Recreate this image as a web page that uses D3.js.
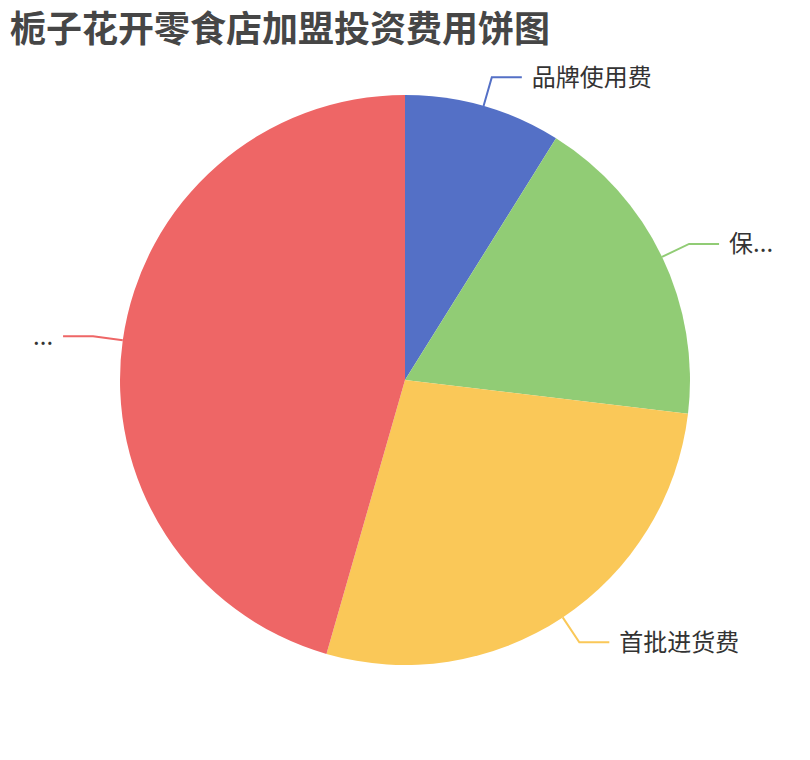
<!DOCTYPE html>
<html>
<head>
<meta charset="utf-8">
<script src="https://cdn.jsdelivr.net/npm/d3@7"></script>
<style>
  body { margin: 0; background: #fff; }
  text { font-family: "Noto Sans CJK SC", "Noto Sans", sans-serif; }
</style>
</head>
<body>
<div id="chart"></div>
<script>
// data
var categories = ["品牌使用费", "保证金", "首批进货费", "其他费用"];
var values = [4, 8.1, 12.4, 20.5];
var labelTexts = ["品牌使用费", "保...", "首批进货费", "..."];
var colors = ["#5470c6", "#91cc75", "#fac858", "#ee6666"];

function makeChart(){
  var width = 810, height = 760,
      radius = Math.min(width, height) / 2 * 0.75,
      len1 = 30, len2 = 30;

  var svg = d3.select("#chart").append("svg")
              .attr("width", width)
              .attr("height", height);

  svg.append("text")
     .attr("x", 10)
     .attr("y", 42)
     .attr("fill", "#464646")
     .attr("font-size", 36)
     .attr("font-weight", "bold")
     .text("栀子花开零食店加盟投资费用饼图");

  var data = categories.map(function(c, i){
    return { name: c, value: values[i], label: labelTexts[i], color: colors[i] };
  });

  var pie = d3.pie().sort(null).value(function(d){ return d.value; });
  var arc = d3.arc().innerRadius(0).outerRadius(radius);
  var arcs = pie(data);

  var g = svg.append("g")
             .attr("transform", "translate(" + width / 2 + "," + height / 2 + ")");

  g.selectAll(".slice")
   .data(arcs)
   .enter().append("path")
   .attr("class", "slice")
   .attr("d", arc)
   .attr("fill", function(d){ return d.data.color; });

  // label lines: out from the rim along the mid angle, then sideways
  function pt(a, r){ return [Math.sin(a) * r, -Math.cos(a) * r]; }

  arcs.forEach(function(d){
    var mid = (d.startAngle + d.endAngle) / 2;
    var p0 = pt(mid, radius), p1 = pt(mid, radius + len1);
    var right = Math.sin(mid) >= 0;
    var p2 = [p1[0] + (right ? len2 : -len2), p1[1]];

    g.append("polyline")
     .attr("points", [p0, p1, p2].map(function(p){ return p.join(","); }).join(" "))
     .attr("fill", "none")
     .attr("stroke", d.data.color)
     .attr("stroke-width", 2);

    g.append("text")
     .attr("x", p2[0] + (right ? 10 : -10))
     .attr("y", p2[1])
     .attr("dy", "0.35em")
     .attr("text-anchor", right ? "start" : "end")
     .attr("font-size", 24)
     .attr("fill", "#333")
     .text(d.data.label);
  });
}

makeChart();
</script>
</body>
</html>
